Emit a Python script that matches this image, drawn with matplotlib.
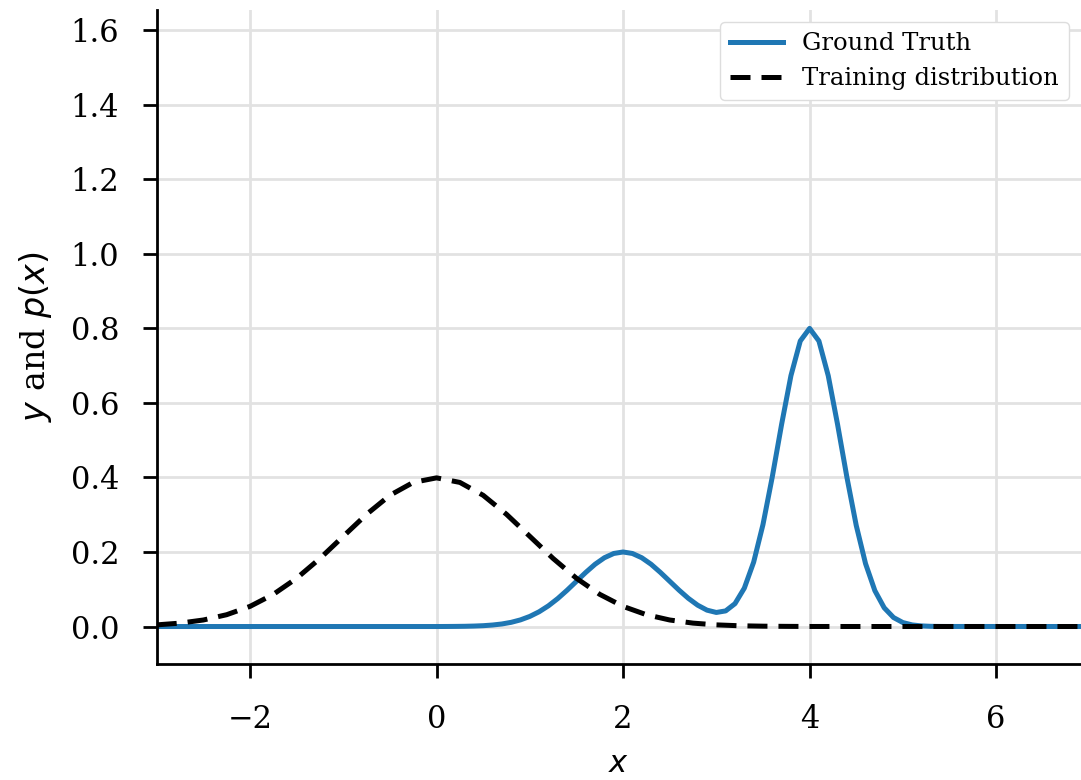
import matplotlib
matplotlib.use("Agg")
import matplotlib.pyplot as plt

plt.rcParams['font.family'] = ['DejaVu Serif']

# ground truth curve
gt_x = [-3.0, -1.0, 0.0, 0.1, 0.2, 0.3, 0.4, 0.5, 0.6, 0.7, 0.8, 0.9,
        1.0, 1.1, 1.2, 1.3, 1.4, 1.5, 1.6, 1.7, 1.8, 1.9,
        2.0, 2.1, 2.2, 2.3, 2.4, 2.5, 2.6, 2.7, 2.8, 2.9,
        3.0, 3.1, 3.2, 3.3, 3.4, 3.5, 3.6, 3.7, 3.8, 3.9,
        4.0, 4.1, 4.2, 4.3, 4.4, 4.5, 4.6, 4.7, 4.8, 4.9,
        5.0, 5.1, 5.2, 5.3, 5.4, 5.5, 7.0]
gt_y = [0.0, 0.0, 0.0, 0.0001, 0.0003, 0.0006, 0.0012, 0.0022, 0.0040, 0.0068, 0.0112, 0.0178,
        0.0271, 0.0396, 0.0556, 0.0751, 0.0974, 0.1213, 0.1452, 0.1671, 0.1846, 0.1960,
        0.2000, 0.1960, 0.1846, 0.1671, 0.1452, 0.1214, 0.0976, 0.0756, 0.0572, 0.0439,
        0.0377, 0.0419, 0.0614, 0.1029, 0.1726, 0.2735, 0.4017, 0.5427, 0.6732, 0.7662,
        0.8000, 0.7661, 0.6729, 0.5421, 0.4005, 0.2713, 0.1686, 0.0961, 0.0502, 0.0241,
        0.0106, 0.0043, 0.0016, 0.0005, 0.0002, 0.0001, 0.0]

# training distribution (dashed)
tr_x = [-3.0, -2.75, -2.5, -2.25, -2.0, -1.75, -1.5, -1.25, -1.0, -0.75, -0.5, -0.25,
        0.0, 0.25, 0.5, 0.75, 1.0, 1.25, 1.5, 1.75, 2.0, 2.25, 2.5, 2.75,
        3.0, 3.25, 3.5, 3.75, 4.0, 5.0, 7.0]
tr_y = [0.0044, 0.0091, 0.0175, 0.0317, 0.0540, 0.0863, 0.1295, 0.1826, 0.2420, 0.3011, 0.3521, 0.3867,
        0.3989, 0.3867, 0.3521, 0.3011, 0.2420, 0.1826, 0.1295, 0.0863, 0.0540, 0.0317, 0.0175, 0.0091,
        0.0044, 0.0020, 0.0009, 0.0004, 0.0001, 0.0, 0.0]

x_ticks = [-2, 0, 2, 4, 6]
y_ticks = [0.0, 0.2, 0.4, 0.6, 0.8, 1.0, 1.2, 1.4, 1.6]

fig, ax = plt.subplots(figsize=(10.81, 7.80), dpi=100)
fig.subplots_adjust(left=0.145, right=1.0, bottom=0.149, top=0.987)

ax.plot(gt_x, gt_y, color='#1f77b4', lw=3.6, label='Ground Truth')
ax.plot(tr_x, tr_y, color='black', lw=3.6, ls=(0, (4, 2.2)), label='Training distribution')

ax.set_xlim(-3, 6.91)
ax.set_ylim(-0.1, 1.654)
ax.set_xticks(x_ticks)
ax.set_yticks(y_ticks)
ax.grid(True, color='#e2e2e2', lw=2)
ax.set_axisbelow(True)

for s in ['top', 'right']:
    ax.spines[s].set_visible(False)
for s in ['left', 'bottom']:
    ax.spines[s].set_linewidth(2)
ax.tick_params(labelsize=22, width=2, length=10)
ax.tick_params(axis='y', pad=17)
ax.tick_params(axis='x', pad=19)

ax.set_xlabel('$x$', fontsize=22, labelpad=9)
ax.set_ylabel('$y$ and $p(x)$', fontsize=24, labelpad=12)

ax.legend(loc='upper right', fontsize=17.5, handlelength=2.2, framealpha=1.0,
          edgecolor='#dddddd', borderaxespad=0.5)

fig.savefig('out.png', dpi=100)
